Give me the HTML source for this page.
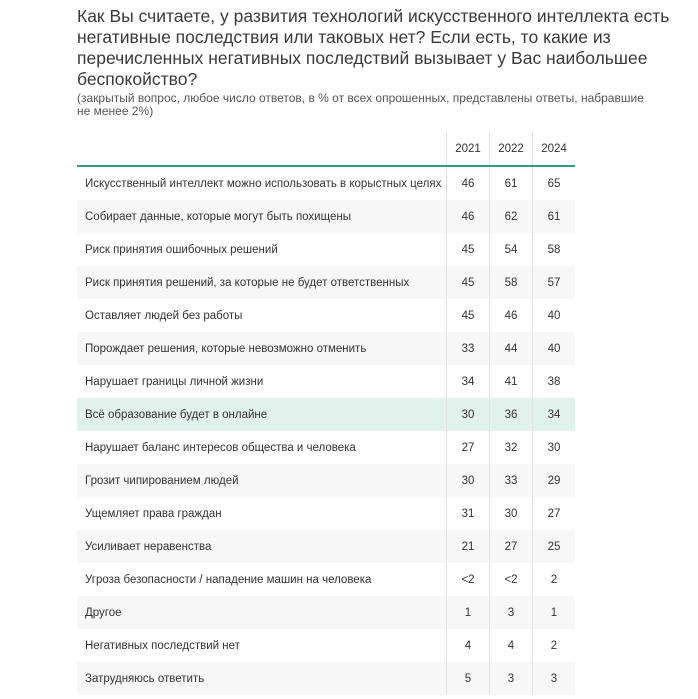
<!DOCTYPE html>
<html><head><meta charset="utf-8"><style>
body{margin:0;background:#fff;font-family:"Liberation Sans","Noto Sans CJK SC",sans-serif;color:#333;width:698px;height:699px;overflow:hidden;position:relative}
#title{position:absolute;left:77px;top:6px;width:600px;font-size:17.5px;line-height:21px;color:#3a3a3a}
#sub{position:absolute;left:77px;top:92px;width:570px;font-size:12px;line-height:13px;color:#555}
#tbl{position:absolute;left:77px;top:132px;width:498px;border-collapse:collapse;font-size:11.5px}
#tbl td,#tbl th{padding:0;height:33px;font-weight:normal}
#tbl th{height:33px;border-bottom:2px solid #2e9e86}
#tbl td.l{padding-left:8px;text-align:left}
#tbl .n{width:42px;text-align:center;border-left:1px solid #e3e3e3}
#tbl tr.g{background:#f7f7f7}
#tbl tr.h{background:#e1f1ec}
</style></head><body>
<div id="title">Как Вы считаете, у развития технологий искусственного интеллекта есть негативные последствия или таковых нет? Если есть, то какие из перечисленных негативных последствий вызывает у Вас наибольшее беспокойство?</div>
<div id="sub">(закрытый вопрос, любое число ответов, в % от всех опрошенных, представлены ответы, набравшие не менее 2%)</div>
<table id="tbl"><thead><tr><th></th><th class="n">2021</th><th class="n">2022</th><th class="n">2024</th></tr></thead><tbody id="tb"></tbody></table>
<script>
const categories=["Искусственный интеллект можно использовать в корыстных целях","Собирает данные, которые могут быть похищены","Риск принятия ошибочных решений","Риск принятия решений, за которые не будет ответственных","Оставляет людей без работы","Порождает решения, которые невозможно отменить","Нарушает границы личной жизни","Всё образование будет в онлайне","Нарушает баланс интересов общества и человека","Грозит чипированием людей","Ущемляет права граждан","Усиливает неравенства","Угроза безопасности / нападение машин на человека","Другое","Негативных последствий нет","Затрудняюсь ответить"];
const v2021=["46","46","45","45","45","33","34","30","27","30","31","21","<2","1","4","5"];
const v2022=["61","62","54","58","46","44","41","36","32","33","30","27","<2","3","4","3"];
const v2024=["65","61","58","57","40","40","38","34","30","29","27","25","2","1","2","3"];
const highlight=7;
const tb=document.getElementById('tb');
categories.forEach((c,i)=>{
  const tr=document.createElement('tr');
  
  
  if(i===highlight)tr.className='h';else if(i%2===1)tr.className='g';
  const td=document.createElement('td');td.className='l';td.textContent=c;
  
  
  tr.appendChild(td);
  [v2021,v2022,v2024].forEach(arr=>{
    const d=document.createElement('td');d.className='n';d.textContent=arr[i];
    
    
    tr.appendChild(d);
  });
  tb.appendChild(tr);
});
</script>
</body></html>
